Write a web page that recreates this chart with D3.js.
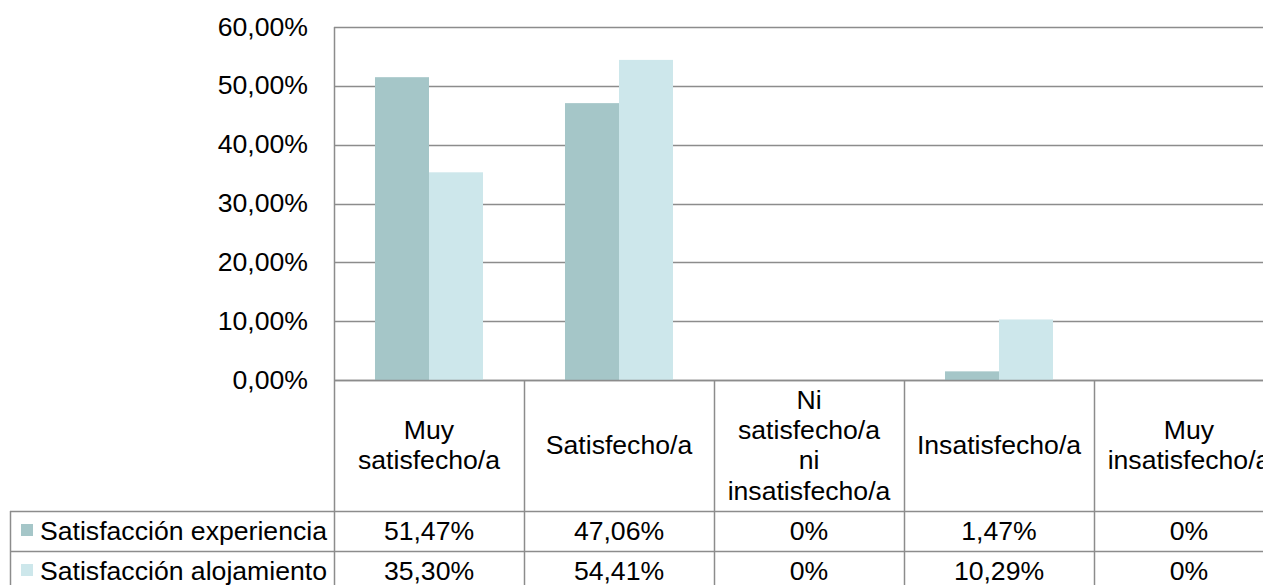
<!DOCTYPE html>
<html>
<head>
<meta charset="utf-8">
<script src="https://cdn.jsdelivr.net/npm/d3@7"></script>
<style>
  html, body { margin: 0; padding: 0; background: #fff; }
  svg { display: block; }
  text { font-family: "Liberation Sans", Arial, sans-serif; fill: #000; }
</style>
</head>
<body>
<svg id="chart" width="1263" height="585"></svg>
<script>
// ---- data ----
const categories = [
  ["Muy", "satisfecho/a"],
  ["Satisfecho/a"],
  ["Ni", "satisfecho/a", "ni", "insatisfecho/a"],
  ["Insatisfecho/a"],
  ["Muy", "insatisfecho/a"]
];
const seriesNames = ["Satisfacción experiencia", "Satisfacción alojamiento"];
const experiencia = [0.5147, 0.4706, 0, 0.0147, 0];
const alojamiento = [0.3530, 0.5441, 0, 0.1029, 0];
const yTicks = [0, 0.1, 0.2, 0.3, 0.4, 0.5, 0.6];
const seriesColors = ["#a5c6c8", "#cde7eb"];

// ---- layout ----
const svg = d3.select("#chart");
const plotLeft = 334, plotTop = 27, plotBottom = 380;
const colW = 190;
const headerBottom = 511, rowH = 40;
const tableLeft = 10;
const fontSize = 25;
const stretch = 1.065;
const gridColor = "#8c8c8c";

const locale = d3.formatLocale({decimal: ",", thousands: ".", grouping: [3], currency: ["", "€"]});
const fmtTick = locale.format(".2%");
const fmtVal = v => v === 0 ? "0%" : locale.format(".2%")(v);

const catIdx = d3.range(categories.length);
const x = d3.scaleBand().domain(catIdx).range([plotLeft, plotLeft + colW * categories.length]).padding(0);
const xs = d3.scaleBand().domain([0, 1]).range([0, x.bandwidth()]).paddingInner(0).paddingOuter(0.759);
const y = d3.scaleLinear().domain([0, 0.6]).range([plotBottom, plotTop]);

// helper: place text at (px,py) with slight horizontal stretch
function placed(sel, px, py) {
  return sel.attr("transform", (d, i) => `translate(${px(d, i)},${py(d, i)}) scale(${stretch},1)`);
}

// gridlines
svg.append("g").selectAll("line").data(yTicks).join("line")
  .attr("x1", plotLeft).attr("x2", 1263)
  .attr("y1", d => Math.round(y(d)) + 0.5).attr("y2", d => Math.round(y(d)) + 0.5)
  .attr("stroke", gridColor).attr("stroke-width", 1.5);

// y axis labels
const yAxis = d3.axisLeft(y).tickValues(yTicks).tickFormat(fmtTick).tickSize(0).tickPadding(26);
const ya = svg.append("g").attr("transform", `translate(${plotLeft},0)`).call(yAxis);
ya.select(".domain").remove();
ya.selectAll("text")
  .style("font-size", fontSize + "px")
  .style("font-family", '"Liberation Sans", Arial, sans-serif')
  .attr("fill", "#000")
  .attr("x", null)
  .attr("transform", `translate(-26,0) scale(${stretch},1)`);

// bars
const series = [experiencia, alojamiento];
series.forEach((vals, si) => {
  svg.append("g").selectAll("rect").data(vals).join("rect")
    .attr("x", (d, i) => x(i) + xs(si))
    .attr("width", xs.bandwidth())
    .attr("y", d => y(d))
    .attr("height", d => plotBottom - y(d))
    .attr("fill", seriesColors[si]);
});

// axis line at 0 and left axis
svg.append("line").attr("x1", plotLeft).attr("x2", 1263).attr("y1", plotBottom + 0.5).attr("y2", plotBottom + 0.5)
  .attr("stroke", gridColor).attr("stroke-width", 1.5);
svg.append("line").attr("x1", plotLeft + 0.5).attr("x2", plotLeft + 0.5).attr("y1", plotTop).attr("y2", 585)
  .attr("stroke", gridColor).attr("stroke-width", 1.5);

// table column separators
svg.append("g").selectAll("line").data(catIdx.slice(1)).join("line")
  .attr("x1", d => x(d) + 0.5).attr("x2", d => x(d) + 0.5)
  .attr("y1", plotBottom).attr("y2", 585)
  .attr("stroke", gridColor).attr("stroke-width", 1.5);

// table rows horizontal lines
[headerBottom, headerBottom + rowH].forEach(yy => {
  svg.append("line").attr("x1", tableLeft).attr("x2", 1263).attr("y1", yy + 0.5).attr("y2", yy + 0.5)
    .attr("stroke", gridColor).attr("stroke-width", 1.5);
});
svg.append("line").attr("x1", tableLeft + 0.5).attr("x2", tableLeft + 0.5).attr("y1", headerBottom).attr("y2", 585)
  .attr("stroke", gridColor).attr("stroke-width", 1.5);

// category labels
const lineH = 30.3;
const headerMid = (plotBottom + headerBottom) / 2;
const catG = svg.append("g").selectAll("text").data(categories).join("text")
  .attr("text-anchor", "middle")
  .style("font-size", fontSize + "px");
placed(catG, (d, i) => x(i) + x.bandwidth() / 2, () => 0);
catG.each(function(lines) {
  const t = d3.select(this);
  const y0 = headerMid - (lines.length - 1) * lineH / 2;
  lines.forEach((l, k) => {
    t.append("tspan").attr("x", 0).attr("y", y0 + k * lineH).attr("dy", "0.35em").text(l);
  });
});

// legend + values rows
series.forEach((vals, si) => {
  const rowMid = headerBottom + rowH * si + rowH / 2;
  svg.append("rect").attr("x", 21).attr("y", rowMid - 7).attr("width", 12).attr("height", 12).attr("fill", seriesColors[si]);
  const lt = svg.append("text").datum(seriesNames[si]).attr("dy", "0.35em").style("font-size", fontSize + "px").text(d => d);
  placed(lt, () => 40, () => rowMid);
  const vt = svg.append("g").selectAll("text").data(vals).join("text")
    .attr("dy", "0.35em")
    .attr("text-anchor", "middle")
    .style("font-size", fontSize + "px")
    .text(fmtVal);
  placed(vt, (d, i) => x(i) + x.bandwidth() / 2, () => rowMid);
});
</script>
</body>
</html>
